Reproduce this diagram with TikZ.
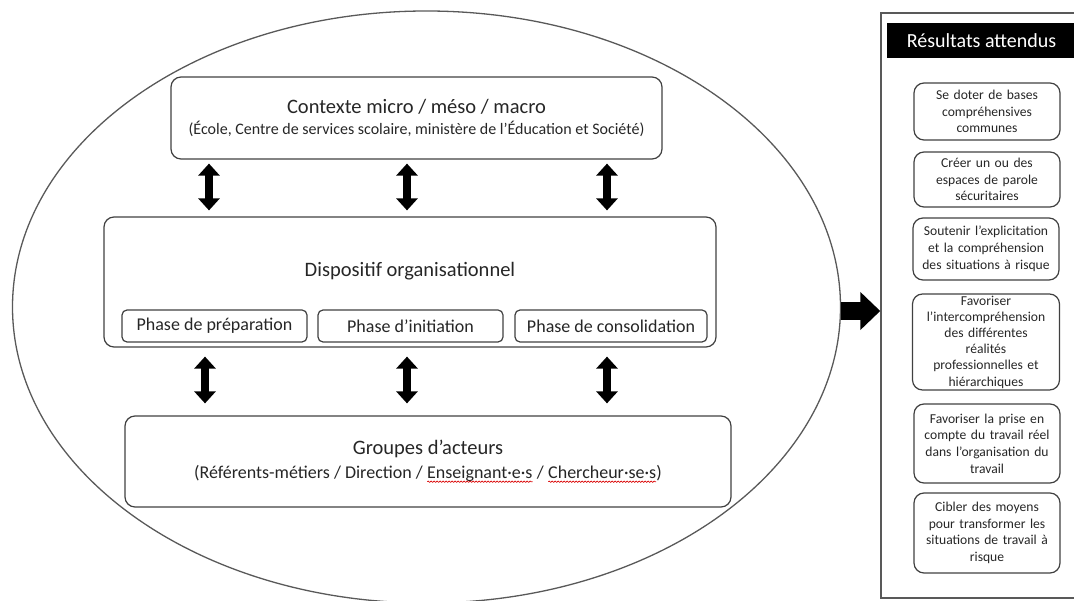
\documentclass[tikz,border=0pt]{standalone}
\usepackage{fontspec}
\setmainfont{Carlito}
\usetikzlibrary{arrows.meta,shapes.geometric,decorations.pathmorphing}
\newcommand\redwave[1]{\tikz[baseline=(w.base)]{\node[inner sep=0pt, outer sep=0pt, draw=none, minimum width=0pt, minimum height=0pt, rounded corners=0pt] (w) {#1};
  \draw[red!85!black, line width=0.6pt, sharp corners, decorate, decoration={snake, amplitude=0.7pt, segment length=3pt}] ([yshift=-3pt]w.base west) -- ([yshift=-3pt]w.base east);}}
\begin{document}
\begin{tikzpicture}[x=1pt,y=-1pt,
  box/.style={draw=black!75, line width=1.2pt, rounded corners=10pt, inner sep=0pt, align=center, text=black!85},
  phasebox/.style={box, rounded corners=5pt, minimum width=185pt, minimum height=32pt, font=\fontsize{18}{21}\selectfont},
  resbox/.style={box, rounded corners=10pt, minimum width=146pt, text width=146pt, font=\fontsize{13.6}{16.7}\selectfont},
  dbl/.style={line width=8pt, {Triangle[width=21pt,length=12pt]}-{Triangle[width=21pt,length=12pt]}},
  big/.style={line width=18pt, -{Triangle[width=37pt,length=20pt]}}
]
\useasboundingbox (0,0) rectangle (1074,601);

\node[ellipse, draw=black!65, line width=1.3pt, minimum width=828pt, minimum height=592pt, inner sep=0pt] (E) at (426.5,307) {};

\node[box, minimum width=491pt, minimum height=82pt, font=\fontsize{16}{21}\selectfont] (C) at (416.5,118)
  {{\fontsize{20.5}{21}\selectfont Contexte micro / méso / macro}\\(École, Centre de services scolaire, ministère de l’Éducation et Société)};

\node[box, minimum width=612pt, minimum height=130pt] (D) at (410,282) {};
\node[font=\fontsize{20.5}{24}\selectfont, text=black!85, inner sep=0pt] (Dt) at (410,271) {Dispositif organisationnel};
\node[phasebox] (P1) at (214.5,326) {Phase de préparation};
\node[phasebox] (P2) at (410.5,326) {Phase d’initiation};
\node[phasebox, minimum width=192pt] (P3) at (611,326) {Phase de consolidation};

\node[box, minimum width=606pt, minimum height=91pt, font=\fontsize{18}{24}\selectfont] (G) at (428,461.5)
  {{\fontsize{20.5}{24}\selectfont Groupes d’acteurs}\\(Référents-métiers / Direction / \redwave{Enseignant·e·s} / \redwave{Chercheur·se·s})};

\foreach \x in {209,407,607}
  \draw[dbl, shorten <=4pt, shorten >=6pt] (C.south -| \x,0) -- (D.north -| \x,0);
\foreach \x in {205,407,607}
  \draw[dbl, shorten <=9pt, shorten >=12pt] (D.south -| \x,0) -- (G.north -| \x,0);

\node[draw=black!65, line width=1.5pt, minimum width=201pt, minimum height=585pt, inner sep=0pt] (R) at (981.5,305.5) {};
\node[fill=black, text=white, minimum width=189pt, minimum height=35pt, inner sep=0pt, font=\fontsize{20}{24}\selectfont] (H) at (981.5,40.5) {Résultats attendus};

\node[resbox, minimum height=57pt] (R1) at (987,111.5) {Se doter de bases\\compréhensives\\communes};
\node[resbox, minimum height=55pt] (R2) at (987,179.5) {Créer un ou des\\espaces de parole\\sécuritaires};
\node[resbox, minimum height=62pt] (R3) at (986,249) {Soutenir l’explicitation\\et la compréhension\\des situations à risque};
\node[resbox, minimum height=96pt, minimum width=147pt, font=\fontsize{13.6}{16.2}\selectfont] (R4) at (986,342) {Favoriser\\l’intercompréhension\\des différentes\\réalités\\professionnelles et\\hiérarchiques};
\node[resbox, minimum height=79pt] (R5) at (987,443.5) {Favoriser la prise en\\compte du travail réel\\dans l’organisation du\\travail};
\node[resbox, minimum height=80pt] (R6) at (987,533) {Cibler des moyens\\pour transformer les\\situations de travail à\\risque};

\draw[big] (E.east |- 0,311) -- (R.west |- 0,311);
\end{tikzpicture}
\end{document}
